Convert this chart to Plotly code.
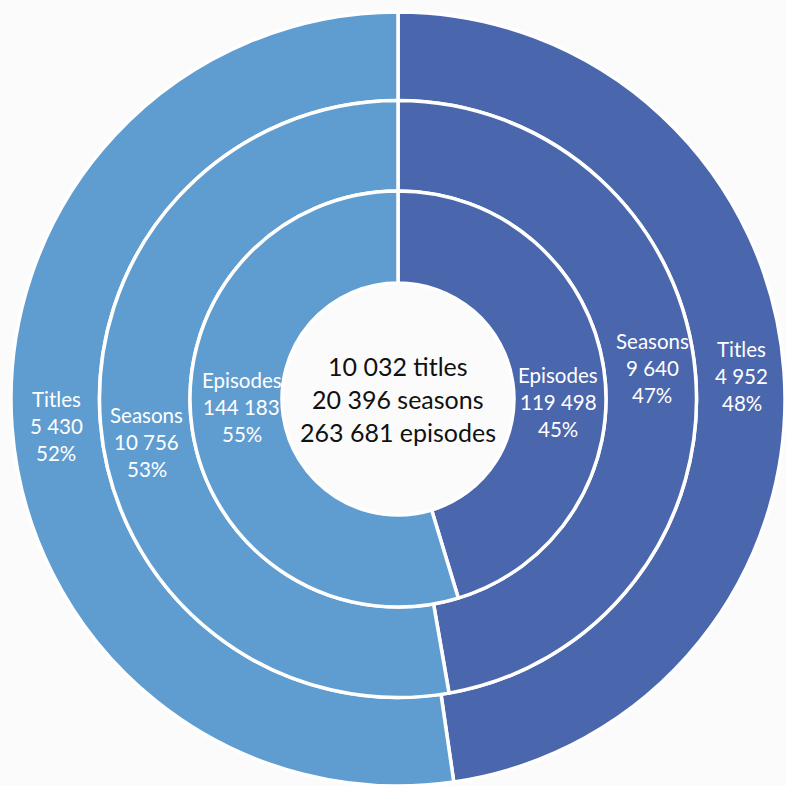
import math
import plotly.graph_objects as go

# Two groups split across three nested rings
groups = ["Group A", "Group B"]
ring_names = ["Titles", "Seasons", "Episodes"]
titles = [4952, 5430]
seasons = [9640, 10756]
episodes = [119498, 144183]
center_lines = ["10 032 titles", "20 396 seasons", "263 681 episodes"]

colors = ["#4A66AC", "#5F9DD1"]
FONT = "Lato"
LABEL_SIZE = 20.5
LABEL_STEP = 27      # px between label lines
CENTER_SIZE = 25
CENTER_STEP = 33

W = H = 786
cx, cy = 398, 399               # pixel centre of the rings
radii = [387, 298.5, 208, 116]  # ring boundaries, outer to hole
# small pixel nudges (dx, dy) for each ring's labels, per group
label_nudge = [
    [(2, 2), (0, 2)],
    [(2, -9), (1, 21)],
    [(0, 27), (4, -16)],
]


def domain(r):
    return dict(
        x=[(cx - r) / W, (cx + r) / W],
        y=[max(0, 1 - (cy + r) / H), min(1, 1 - (cy - r) / H)],
    )


def fmt(n):
    return f"{n:,}".replace(",", " ")


def add_lines(x, y, lines, size, step, color):
    n = len(lines)
    for k, line in enumerate(lines):
        py = y + (k - (n - 1) / 2) * step
        fig.add_annotation(
            x=x / W, y=1 - py / H, xref="paper", yref="paper",
            text=line, showarrow=False, align="center",
            xanchor="center", yanchor="middle",
            font=dict(family=FONT, size=size, color=color),
        )


fig = go.Figure()
for i, (name, vals) in enumerate(zip(ring_names, [titles, seasons, episodes])):
    r_out, r_in = radii[i], radii[i + 1]
    fig.add_trace(go.Pie(
        labels=groups,
        values=vals,
        textinfo="none",
        hole=r_in / r_out,
        domain=domain(r_out),
        sort=False,
        direction="clockwise",
        rotation=0,
        marker=dict(colors=colors, line=dict(color="white", width=3.5)),
        hoverinfo="skip",
        showlegend=False,
    ))

    # labels at the angular middle of each slice, halfway across the ring
    total = sum(vals)
    r_mid = (r_out + r_in) / 2
    cum = 0
    for j, v in enumerate(vals):
        ang = 2 * math.pi * (cum + v / 2) / total
        cum += v
        dx, dy = label_nudge[i][j]
        x = cx + r_mid * math.sin(ang) + dx
        y = cy - r_mid * math.cos(ang) + dy
        pct = round(100 * v / total)
        add_lines(x, y, [name, fmt(v), f"{pct}%"], LABEL_SIZE, LABEL_STEP, "white")

add_lines(cx, cy, center_lines, CENTER_SIZE, CENTER_STEP, "#111111")

fig.update_layout(
    width=W, height=H,
    margin=dict(l=0, r=0, t=0, b=0),
    paper_bgcolor="#fbfbfb",
    plot_bgcolor="#fbfbfb",
)

fig.write_html("out.html")
